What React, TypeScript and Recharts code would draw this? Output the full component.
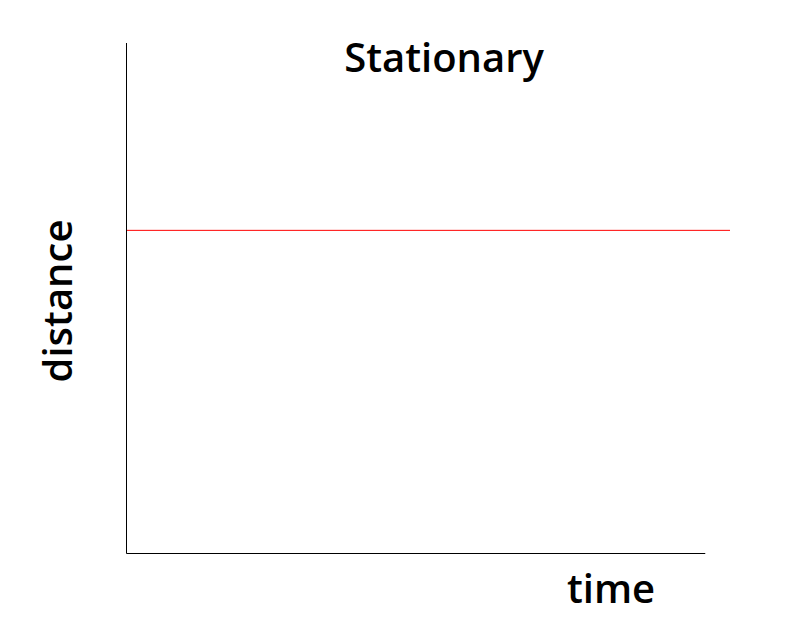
import React from 'react';
import { LineChart, Line, XAxis, YAxis, ReferenceLine, Label } from 'recharts';

// Data
const timeValues = [0, 10];
const distanceValues = [6.33, 6.33];
const timeDomain = [0, 10];
const distanceDomain = [0, 10];
const xAxisEnd = 9.59;

const title = 'Stationary';
const xLabel = 'time';
const yLabel = 'distance';

const data = timeValues.map((t, i) => ({ time: t, distance: distanceValues[i] }));

const FONT = '"Open Sans", "Noto Sans", sans-serif';
const FS = 40;
const FW = 600;

const W = 800;
const H = 629;
const M = { top: 43, right: 70, bottom: 75.5, left: 0 };
const YW = 126.5;

export default function App() {
  return (
    <div style={{ position: 'absolute', left: 0, top: 0, width: W, height: H, background: '#fff' }}>
      <LineChart width={W} height={H} data={data} margin={M}>
        <XAxis
          dataKey="time"
          type="number"
          domain={timeDomain}
          axisLine={false}
          tickLine={false}
          tick={false}
          hide
        />
        <YAxis
          type="number"
          domain={distanceDomain}
          width={YW}
          stroke="#000"
          axisLine={{ stroke: '#000', strokeWidth: 1 }}
          tickLine={false}
          tick={false}
        >
          <Label
            content={() => (
              <text
                x={72}
                y={301}
                transform="rotate(-90 72 301)"
                textAnchor="middle"
                fontFamily={FONT}
                fontSize={FS}
                fontWeight={FW}
                fill="#000"
              >
                {yLabel}
              </text>
            )}
          />
          <Label
            content={() => (
              <text x={611} y={603} textAnchor="middle" fontFamily={FONT} fontSize={FS} fontWeight={FW} fill="#000">
                {xLabel}
              </text>
            )}
          />
          <Label
            content={() => (
              <text x={444} y={72} textAnchor="middle" fontFamily={FONT} fontSize={FS} fontWeight={FW} fill="#000">
                {title}
              </text>
            )}
          />
        </YAxis>
        <ReferenceLine
          segment={[{ x: 0, y: 0 }, { x: xAxisEnd, y: 0 }]}
          stroke="#000"
          strokeWidth={1}
          ifOverflow="visible"
        />
        <Line
          dataKey="distance"
          stroke="#ff0000"
          strokeWidth={1}
          dot={false}
          activeDot={false}
          isAnimationActive={false}
        />
      </LineChart>
    </div>
  );
}
